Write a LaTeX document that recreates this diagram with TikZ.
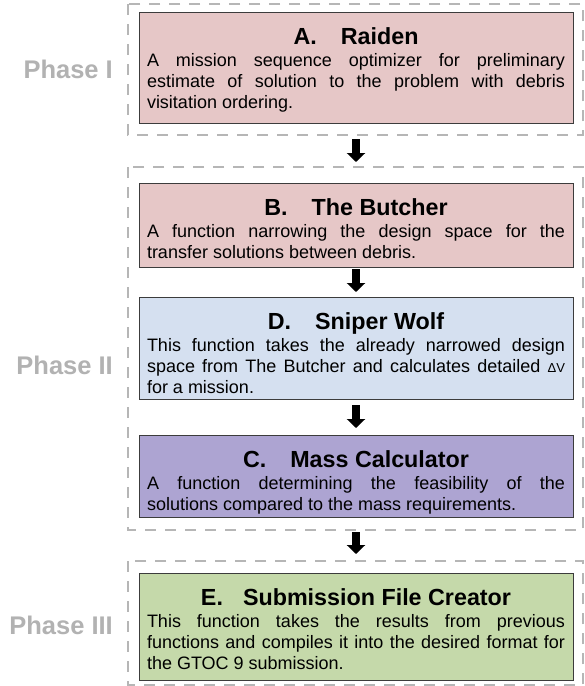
\documentclass[tikz,border=0pt]{standalone}
\usepackage{fontspec}
\setmainfont{Liberation Sans}
\usetikzlibrary{arrows.meta}
\definecolor{pinkfill}{RGB}{230,199,199}
\definecolor{bluefill}{RGB}{213,224,240}
\definecolor{purplefill}{RGB}{173,164,210}
\definecolor{greenfill}{RGB}{197,217,170}
\definecolor{edgegray}{RGB}{60,60,60}
\definecolor{phasegray}{RGB}{178,178,178}
\definecolor{framegray}{RGB}{182,182,182}
\newcommand\boxtext[5]{%
\parbox[c][#1][t]{418pt}{\noindent\makebox[418pt]{\raisebox{0pt}[32.2pt][0pt]{\fontsize{23.3}{25}\selectfont\bfseries #2.\hspace{#5}#3}}\par
\vspace{1.3pt}%
\fontsize{18}{21}\selectfont\tolerance=9999\hyphenpenalty=10000\emergencystretch=30pt\noindent #4\par}}
\begin{document}
\begin{tikzpicture}[x=1pt,y=-1pt,
  fbox/.style={draw=edgegray, line width=1pt, inner xsep=8pt, inner ysep=0pt, anchor=north, outer sep=0pt},
  frame/.style={draw=framegray, line width=2.2pt, dash pattern=on 11pt off 9pt},
  phase/.style={anchor=east, text=phasegray, font=\fontsize{25.5}{28}\selectfont\bfseries, inner sep=0pt},
  flow/.style={line width=8pt, -{Triangle[width=18pt,length=9pt]}}]
\fill[white] (0,0) rectangle (585,686);
\useasboundingbox (0,0) rectangle (585,686);
% phase frames
\draw[frame] (128,4) rectangle (583,135);
\draw[frame] (128,167) rectangle (583,530);
\draw[frame] (128,561) rectangle (583,685);
% phase labels
\node[phase] (p1) at (113,69) {Phase I};
\node[phase] (p2) at (113,365) {Phase II};
\node[phase] (p3) at (113,625) {Phase III};
% boxes
\node[fbox, fill=pinkfill] (A) at (356,12) {\boxtext{111pt}{A}{Raiden}{A mission sequence optimizer for preliminary\linebreak estimate of solution to the problem with debris\linebreak visitation ordering.}{24pt}};
\node[fbox, fill=pinkfill] (B) at (356,183) {\boxtext{84pt}{B}{The Butcher}{A function narrowing the design space for the\linebreak transfer solutions between debris.}{24pt}};
\node[fbox, fill=bluefill] (D) at (356,297) {\boxtext{102pt}{D}{Sniper Wolf}{This function takes the already narrowed design\linebreak space from The Butcher and calculates detailed {\fontsize{13}{13}\selectfont ΔV}\linebreak for a mission.}{24pt}};
\node[fbox, fill=purplefill] (C) at (356,435) {\boxtext{82pt}{C}{Mass Calculator}{A function determining the feasibility of the\linebreak solutions compared to the mass requirements.}{24pt}};
\node[fbox, fill=greenfill] (E) at (356,573) {\boxtext{107pt}{E}{Submission File Creator}{This function takes the results from previous\linebreak functions and compiles it into the desired format for\linebreak the GTOC 9 submission.}{20pt}};
% arrows
\draw[flow, shorten <=16pt, shorten >=21pt] (A.south) -- (B.north);
\draw[flow, shorten <=2pt, shorten >=5pt] (B.south) -- (D.north);
\draw[flow, shorten <=6pt, shorten >=7pt] (D.south) -- (C.north);
\draw[flow, shorten <=15pt, shorten >=19pt] (C.south) -- (E.north);
\end{tikzpicture}
\end{document}
